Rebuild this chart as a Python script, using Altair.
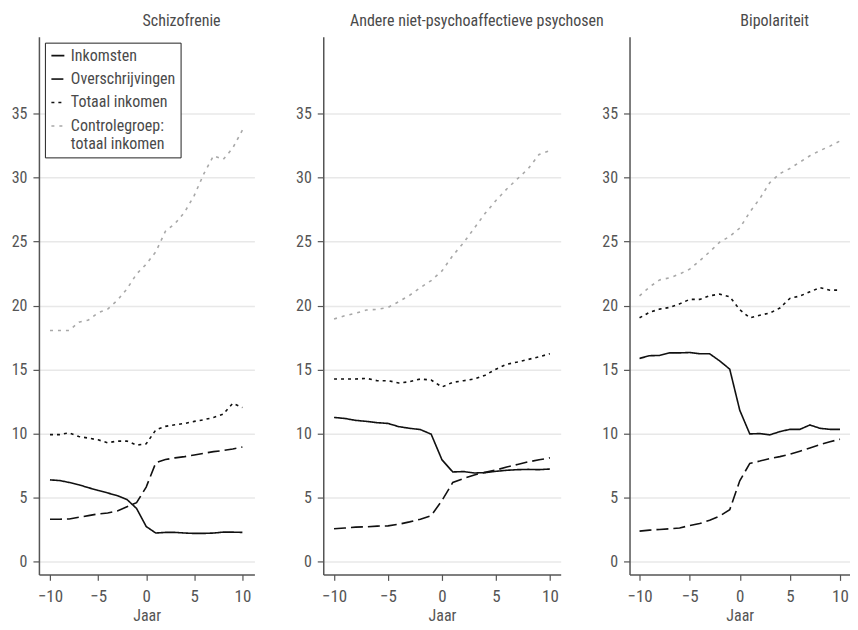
import altair as alt
import pandas as pd

jaar = list(range(-10, 11))
panelen = ["Schizofrenie", "Andere niet-psychoaffectieve psychosen", "Bipolariteit"]
reeksen = ["Inkomsten", "Overschrijvingen", "Totaal inkomen", "Controlegroep: totaal inkomen"]

# Schizofrenie
schizo_inkomsten = [6.38, 6.33, 6.18, 6.0, 5.77, 5.56, 5.36, 5.15, 4.85, 4.15, 2.74, 2.23, 2.28, 2.28, 2.23, 2.2, 2.2, 2.23, 2.3, 2.3, 2.28]
schizo_overschr = [3.31, 3.31, 3.33, 3.46, 3.59, 3.72, 3.79, 3.95, 4.28, 4.6, 5.82, 7.72, 7.97, 8.1, 8.2, 8.33, 8.46, 8.59, 8.67, 8.8, 8.95]
schizo_totaal = [9.92, 9.92, 10.05, 9.77, 9.64, 9.51, 9.28, 9.41, 9.41, 9.1, 9.2, 10.28, 10.56, 10.69, 10.79, 10.95, 11.08, 11.26, 11.51, 12.36, 12.03]
schizo_controle = [18.05, 18.05, 18.05, 18.7, 18.87, 19.44, 19.72, 20.4, 21.3, 22.46, 23.23, 24.2, 25.8, 26.4, 27.3, 28.6, 30.3, 31.7, 31.4, 32.3, 33.7]

# Andere niet-psychoaffectieve psychosen
andere_inkomsten = [11.26, 11.18, 11.03, 10.95, 10.85, 10.79, 10.54, 10.41, 10.31, 9.95, 7.95, 7.0, 7.03, 6.92, 6.95, 7.05, 7.13, 7.18, 7.2, 7.18, 7.23]
andere_overschr = [2.56, 2.62, 2.69, 2.72, 2.77, 2.79, 2.92, 3.1, 3.31, 3.59, 4.77, 6.18, 6.49, 6.77, 6.97, 7.15, 7.38, 7.59, 7.79, 7.95, 8.1]
andere_totaal = [14.26, 14.26, 14.26, 14.31, 14.13, 14.13, 13.95, 14.05, 14.26, 14.18, 13.64, 14.0, 14.13, 14.26, 14.56, 15.03, 15.41, 15.59, 15.79, 16.0, 16.23]
andere_controle = [18.95, 19.2, 19.4, 19.65, 19.7, 19.85, 20.3, 20.8, 21.4, 21.95, 22.7, 23.9, 24.9, 26.05, 27.2, 28.2, 29.1, 29.9, 30.7, 31.8, 32.1]

# Bipolariteit
bipol_inkomsten = [15.87, 16.08, 16.1, 16.3, 16.3, 16.33, 16.23, 16.23, 15.67, 15.03, 11.82, 9.97, 10.0, 9.9, 10.15, 10.33, 10.33, 10.67, 10.41, 10.33, 10.33]
bipol_overschr = [2.38, 2.46, 2.51, 2.56, 2.62, 2.82, 2.97, 3.23, 3.56, 4.05, 6.31, 7.67, 7.85, 8.05, 8.2, 8.38, 8.62, 8.87, 9.13, 9.36, 9.56]
bipol_totaal = [19.04, 19.47, 19.72, 19.85, 20.13, 20.48, 20.48, 20.76, 20.89, 20.69, 19.67, 19.04, 19.24, 19.42, 19.8, 20.56, 20.74, 21.07, 21.4, 21.2, 21.2]
bipol_controle = [20.76, 21.45, 22.0, 22.16, 22.46, 22.84, 23.5, 24.2, 24.95, 25.4, 26.05, 27.3, 28.35, 29.6, 30.3, 30.7, 31.2, 31.7, 32.1, 32.45, 32.85]

reeks_data = {
    "Schizofrenie": [schizo_inkomsten, schizo_overschr, schizo_totaal, schizo_controle],
    "Andere niet-psychoaffectieve psychosen": [andere_inkomsten, andere_overschr, andere_totaal, andere_controle],
    "Bipolariteit": [bipol_inkomsten, bipol_overschr, bipol_totaal, bipol_controle],
}

rows = []
for p in panelen:
    for r, vals in zip(reeksen, reeks_data[p]):
        for j, v in zip(jaar, vals):
            rows.append({"panel": p, "reeks": r, "jaar": j, "waarde": v})
df = pd.DataFrame(rows)

FONT = "Liberation Sans Narrow, Roboto Condensed, DejaVu Sans Condensed, sans-serif"
TXT = "#4a4a4a"
AX = "#555555"


def make_legend():
    return alt.Legend(
        title=None, orient="none", legendX=6, legendY=6,
        strokeColor="#222222", fillColor="white", padding=5,
        symbolType="stroke", symbolSize=169, symbolStrokeWidth=1.6,
        labelFont=FONT, labelFontSize=16, labelColor=TXT, labelLimit=300,
        rowPadding=7.5, labelOffset=5,
        labelExpr="datum.label == 'Controlegroep: totaal inkomen' ? ['Controlegroep:', 'totaal inkomen'] : datum.label",
    )


def panel(name, width, xdom, show_legend):
    d = df[df.panel == name]
    leg = make_legend() if show_legend else None
    return (
        alt.Chart(d)
        .mark_line(strokeWidth=1.6)
        .encode(
            x=alt.X("jaar:Q", scale=alt.Scale(domain=xdom, nice=False, zero=False),
                    axis=alt.Axis(values=[-10, -5, 0, 5, 10], title="Jaar", grid=False,
                                  labelFontSize=17, labelPadding=8, titlePadding=3)),
            y=alt.Y("waarde:Q", scale=alt.Scale(domain=[-1, 41], nice=False, zero=False),
                    axis=alt.Axis(values=[0, 5, 10, 15, 20, 25, 30, 35], title=None, grid=True)),
            color=alt.Color("reeks:N", sort=reeksen,
                            scale=alt.Scale(domain=reeksen, range=["#111111", "#111111", "#111111", "#a8a8a8"]),
                            legend=leg),
            strokeDash=alt.StrokeDash("reeks:N", sort=reeksen,
                                      scale=alt.Scale(domain=reeksen, range=[[1, 0], [12, 5], [3, 4], [3, 5]]),
                                      legend=leg),
        )
        .properties(
            width=width, height=539,
            title=alt.TitleParams(name, dx=35, fontSize=16, font=FONT, color=TXT,
                                  fontWeight="normal", offset=8, anchor="middle"),
        )
    )


p1 = panel("Schizofrenie", 216, [-11.15, 11.25], True)
p2 = panel("Andere niet-psychoaffectieve psychosen", 238, [-11.0, 11.0], False)
p3 = panel("Bipolariteit", 221, [-11.0, 11.0], False)

chart = (
    alt.hconcat(p1, p2, p3, spacing=69, bounds="flush")
    .resolve_legend(color="independent", strokeDash="independent")
    .configure_view(stroke=None)
    .configure_axis(
        domainColor=AX, domainWidth=1.5, tickColor=AX, tickWidth=1.2, tickSize=6,
        labelFont=FONT, labelFontSize=16, labelColor=AX, labelPadding=6,
        titleFont=FONT, titleFontSize=16, titleColor=AX, titleFontWeight="normal", titlePadding=2,
        gridColor="#e8e8e8", gridWidth=1.5,
    )
    .properties(padding={"left": 3, "top": 4, "right": 0, "bottom": 0})
)

chart.save("out.html", embed_options={"renderer": "svg", "actions": False})
